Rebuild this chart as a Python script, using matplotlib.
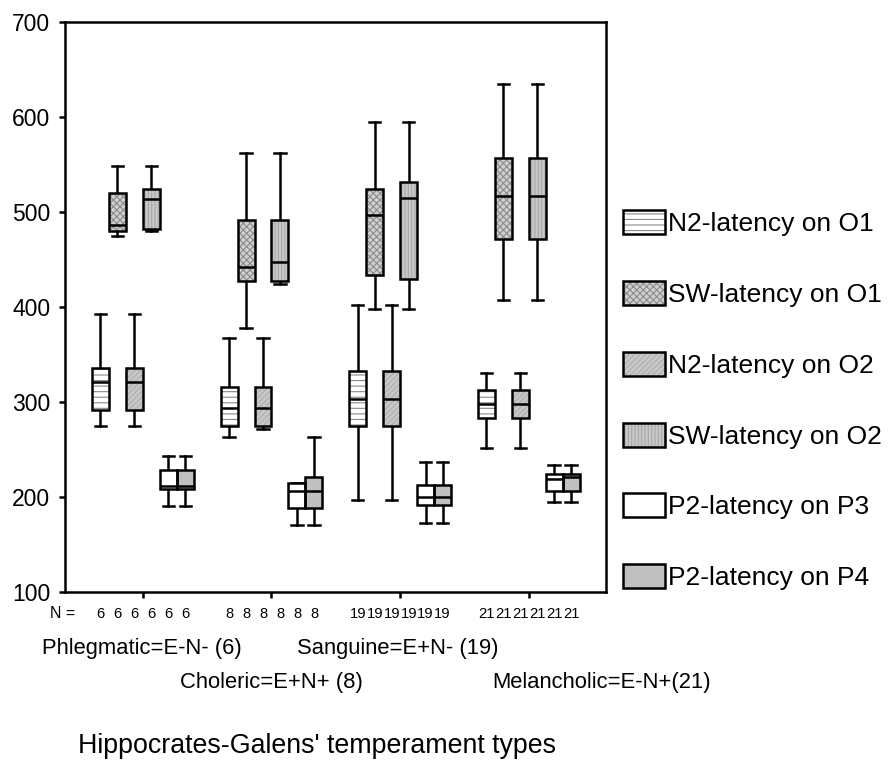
import numpy as np
import matplotlib.pyplot as plt
import matplotlib.transforms as mtransforms
from matplotlib.patches import Patch, PathPatch

plt.rcParams['font.family'] = ['Liberation Sans', 'DejaVu Sans']
plt.rcParams['hatch.linewidth'] = 0.8

# categories
groups = ['Phlegmatic=E-N- (6)', 'Choleric=E+N+ (8)',
          'Sanguine=E+N- (19)', 'Melancholic=E-N+(21)']
n_counts = [6, 8, 19, 21]
series = ['N2-latency on O1', 'SW-latency on O1', 'N2-latency on O2',
          'SW-latency on O2', 'P2-latency on P3', 'P2-latency on P4']

# box stats per series, one value per group
whislo = [[275, 263, 197, 252],
          [475, 378, 398, 407],
          [275, 272, 197, 252],
          [480, 424, 398, 407],
          [190, 170, 173, 195],
          [190, 170, 173, 195]]
q1 = [[292, 275, 275, 283],
      [480, 427, 434, 471],
      [292, 275, 275, 283],
      [482, 427, 429, 471],
      [208, 188, 192, 206],
      [208, 188, 192, 206]]
med = [[321, 294, 303, 298],
       [486, 442, 497, 517],
       [321, 294, 303, 298],
       [513, 447, 515, 517],
       [212, 206, 200, 219],
       [212, 206, 200, 221]]
q3 = [[336, 316, 332, 312],
      [520, 491, 524, 557],
      [336, 316, 332, 312],
      [524, 491, 531, 557],
      [228, 215, 213, 224],
      [228, 221, 213, 224]]
whishi = [[392, 367, 402, 330],
          [548, 562, 595, 634],
          [392, 367, 402, 330],
          [548, 562, 594, 634],
          [243, 215, 237, 234],
          [243, 263, 237, 234]]

# fill styles
faces = ['white', '#cfcfcf', '#c8c8c8', '#c8c8c8', 'white', '#c0c0c0']
hatches = ['---', 'xxxxx', '//////', '|||||', '', '']
hcolors = ['#8a8a8a', '#8c8c8c', '#adadad', '#a8a8a8', 'white', '#c0c0c0']

fig = plt.figure(figsize=(8.95, 7.64), dpi=100)
W, H = 895.0, 764.0
ax = fig.add_axes([65 / W, 1 - 592 / H, (606 - 65) / W, (592 - 21.7) / H])

gpos = np.arange(1, 5)
step = 0.132
lw = 1.8

n_trans = mtransforms.blended_transform_factory(ax.transData, fig.transFigure)

for i, name in enumerate(series):
    stats = []
    for g in range(4):
        stats.append(dict(med=med[i][g], q1=q1[i][g], q3=q3[i][g],
                          whislo=whislo[i][g], whishi=whishi[i][g], fliers=[]))
    pos = gpos + (i - 2.5) * step
    bp = ax.bxp(stats, positions=pos, widths=step, capwidths=0.09,
                patch_artist=True, showfliers=False, manage_ticks=False,
                whiskerprops=dict(color='black', lw=lw, zorder=1.5),
                capprops=dict(color='black', lw=lw, zorder=1.5),
                medianprops=dict(color='black', lw=lw, zorder=4))
    for box in bp['boxes']:
        box.set_facecolor(faces[i])
        box.set_hatch(hatches[i])
        box.set_edgecolor(hcolors[i])
        box.set_linewidth(0)
        box.set_zorder(3)
        ax.add_patch(PathPatch(box.get_path(), fill=False, edgecolor='black',
                               lw=lw, zorder=3.5))
    for x, n in zip(pos, n_counts):
        ax.text(x, 1 - 613.5 / H, str(n), fontsize=10.6, ha='center',
                va='center', transform=n_trans)

ax.set_xlim(0.395, 4.6)
ax.set_ylim(100, 700)
ax.set_yticks(range(100, 701, 100))
ax.set_xticks(gpos)
ax.set_xticklabels([''] * 4)
ax.tick_params(axis='y', direction='out', length=4.5, width=lw, labelsize=16.5, pad=6)
ax.tick_params(axis='x', direction='out', length=4.5, width=lw)
for s in ax.spines.values():
    s.set_linewidth(lw)

fig.text(50 / W, 1 - 613.5 / H, 'N =', fontsize=11.5, ha='left', va='center')

# staggered group labels
label_xy = [(42, 654), (180, 688), (297, 654), (492, 688)]
for name, (px, py) in zip(groups, label_xy):
    fig.text(px / W, 1 - py / H, name, fontsize=15.8, ha='left', va='baseline')

fig.text(78 / W, 1 - 753 / H, "Hippocrates-Galens' temperament types",
         fontsize=19.3, ha='left', va='baseline')

handles = []
for i in range(len(series)):
    handles.append((Patch(facecolor=faces[i], hatch=hatches[i],
                          edgecolor=hcolors[i], lw=0),
                    Patch(fill=False, edgecolor='black', lw=lw)))
fig.legend(handles, series, loc='upper left',
           bbox_to_anchor=(623 / W, 1 - 210 / H), frameon=False,
           fontsize=19, borderpad=0, borderaxespad=0,
           handlelength=1.59, handleheight=1.02, handletextpad=0.12,
           labelspacing=1.70)

fig.savefig('out.png', dpi=100)
